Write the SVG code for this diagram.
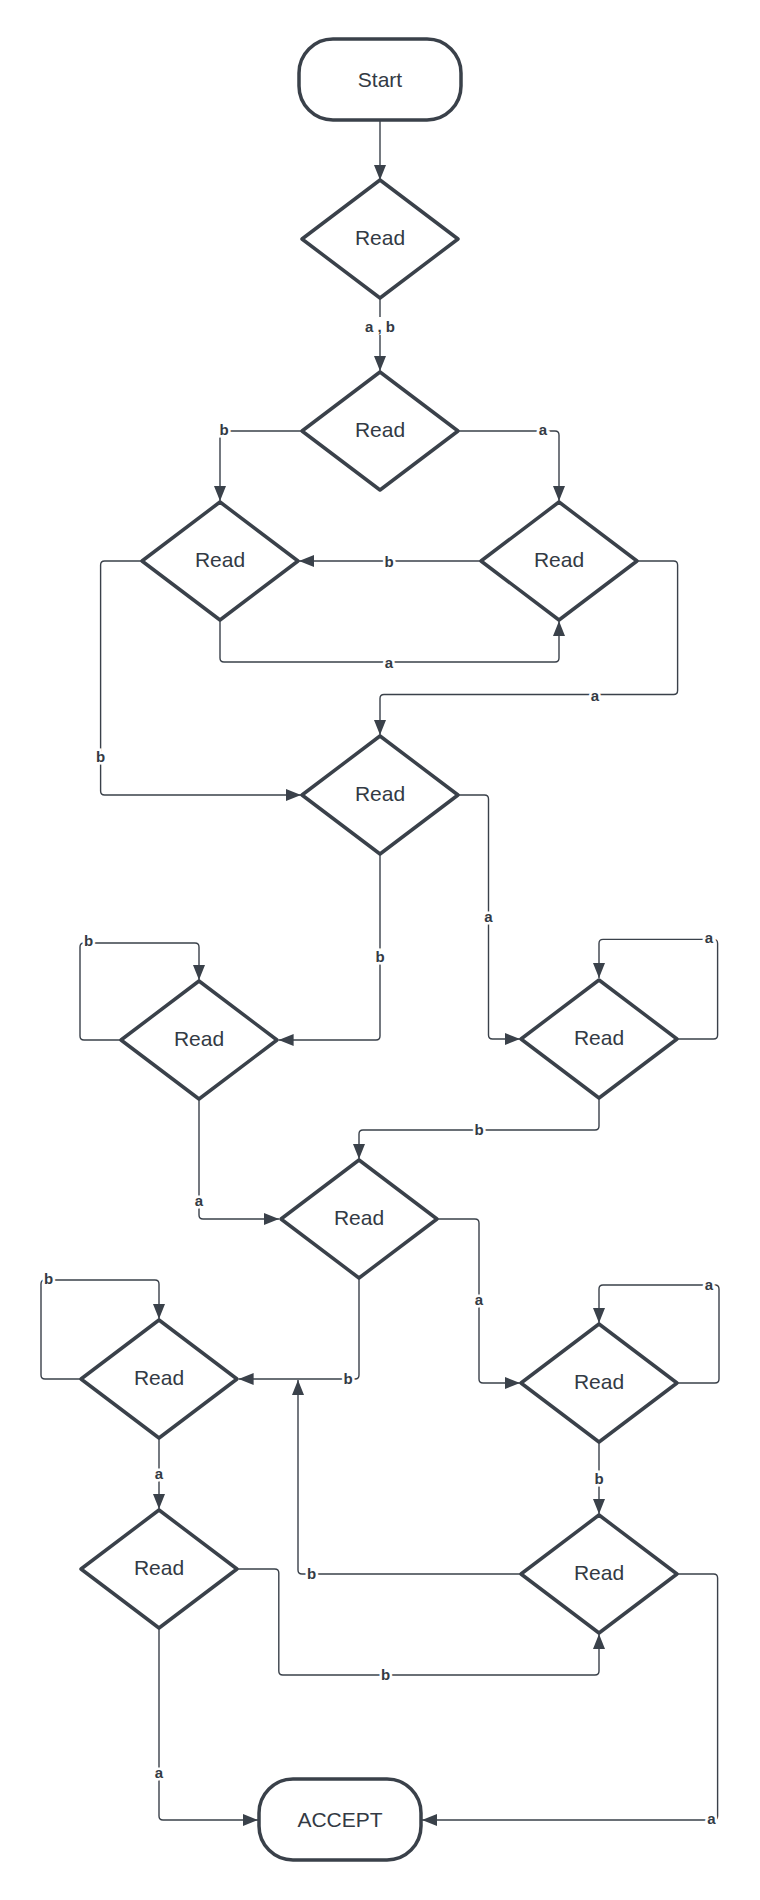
<svg xmlns="http://www.w3.org/2000/svg" xmlns:xlink="http://www.w3.org/1999/xlink" width="760" height="1900" viewBox="0 0 760 1900">
  <style>
    .node { fill: #ffffff; stroke: #3a414a; stroke-width: 3.5; stroke-linejoin: round; }
    .ntext { font-family: "Liberation Sans", Arial, sans-serif; font-size: 21px; fill: #333a44; text-anchor: middle; dominant-baseline: central; }
    .edge { fill: none; stroke: #3a414a; stroke-width: 1.4; stroke-linejoin: round; }
    .arrow { marker-end: url(#head); }
    .lbl { font-family: "Liberation Sans", Arial, sans-serif; font-size: 15px; font-weight: bold; fill: #333a44; text-anchor: middle; dominant-baseline: central; stroke: #ffffff; stroke-width: 5; paint-order: stroke; }
    .lbl-plain { font-family: "Liberation Sans", Arial, sans-serif; font-size: 15px; font-weight: bold; fill: #333a44; text-anchor: middle; dominant-baseline: central; }
  </style>
  <defs>
    <marker id="head" markerUnits="userSpaceOnUse" markerWidth="16" markerHeight="12" refX="15" refY="6" orient="auto">
      <path d="M0,0 L15,6 L0,12 Z" fill="#3a414a"/>
    </marker>
    <polygon id="dia" points="0,-59 78,0 0,59 -78,0"/>
  </defs>

  <rect width="760" height="1900" fill="#ffffff"/>

  <!-- connectors -->
  <g id="connectors">
    <path class="edge arrow" d="M380,120 V180"/>
    <path class="edge arrow" d="M380,298 V371"/>
    <path class="edge arrow" d="M302,431 H224 Q220,431 220,435 V501"/>
    <path class="edge arrow" d="M458,431 H555 Q559,431 559,435 V501"/>
    <path class="edge arrow" d="M481,561 H299"/>
    <path class="edge arrow" d="M220,620 V658 Q220,662 224,662 H555 Q559,662 559,658 V621"/>
    <path class="edge arrow" d="M637.6,561 H673.6 Q677.6,561 677.6,565 V690.5 Q677.6,694.5 673.6,694.5 H384 Q380,694.5 380,698.5 V735"/>
    <path class="edge arrow" d="M142,561 H104.6 Q100.6,561 100.6,565 V791 Q100.6,795 104.6,795 H301"/>
    <path class="edge arrow" d="M458,795 H484.5 Q488.5,795 488.5,799 V1035 Q488.5,1039 492.5,1039 H520"/>
    <path class="edge arrow" d="M380,854 V1036 Q380,1040 376,1040 H278.6"/>
    <path class="edge arrow" d="M121,1040 H84 Q80,1040 80,1036 V947 Q80,943 84,943 H195 Q199,943 199,947 V980"/>
    <path class="edge arrow" d="M677.6,1039 H713.6 Q717.6,1039 717.6,1035 V943.4 Q717.6,939.4 713.6,939.4 H603 Q599,939.4 599,943.4 V978"/>
    <path class="edge arrow" d="M599,1098 V1126 Q599,1130 595,1130 H363 Q359,1130 359,1134 V1159"/>
    <path class="edge arrow" d="M199,1099 V1215 Q199,1219 203,1219 H279"/>
    <path class="edge arrow" d="M437.6,1219 H475 Q479,1219 479,1223 V1379 Q479,1383 483,1383 H520"/>
    <path class="edge arrow" d="M359,1278 V1375 Q359,1379 355,1379 H238.6"/>
    <path class="edge arrow" d="M81,1379 H45 Q41,1379 41,1375 V1284 Q41,1280 45,1280 H155 Q159,1280 159,1284 V1319"/>
    <path class="edge arrow" d="M677.6,1383 H715 Q719,1383 719,1379 V1289 Q719,1285 715,1285 H603 Q599,1285 599,1289 V1323"/>
    <path class="edge arrow" d="M159,1438 V1509"/>
    <path class="edge arrow" d="M599,1442 V1514"/>
    <path class="edge arrow" d="M521,1574 H302 Q298,1574 298,1570 V1380"/>
    <path class="edge arrow" d="M237.6,1569 H274.8 Q278.8,1569 278.8,1573 V1671 Q278.8,1675 282.8,1675 H595 Q599,1675 599,1671 V1634"/>
    <path class="edge arrow" d="M159,1628 V1816 Q159,1820 163,1820 H258"/>
    <path class="edge arrow" d="M677.6,1574 H713.6 Q717.6,1574 717.6,1578 V1816 Q717.6,1820 713.6,1820 H422"/>

    <rect x="361" y="317" width="38" height="18" fill="#ffffff"/>
    <text class="lbl-plain" x="380" y="326" xml:space="preserve">a , b</text>
    <text class="lbl" x="224" y="429">b</text>
    <text class="lbl" x="543" y="429">a</text>
    <text class="lbl" x="389" y="561">b</text>
    <text class="lbl" x="389" y="662">a</text>
    <text class="lbl" x="595" y="695">a</text>
    <text class="lbl" x="100.6" y="756">b</text>
    <text class="lbl" x="488.5" y="916">a</text>
    <text class="lbl" x="380" y="956">b</text>
    <text class="lbl" x="88.5" y="940">b</text>
    <text class="lbl" x="709" y="937">a</text>
    <text class="lbl" x="479" y="1129">b</text>
    <text class="lbl" x="199" y="1200">a</text>
    <text class="lbl" x="479" y="1299">a</text>
    <text class="lbl" x="348" y="1378">b</text>
    <text class="lbl" x="48.5" y="1278">b</text>
    <text class="lbl" x="709" y="1284">a</text>
    <text class="lbl" x="159" y="1473">a</text>
    <text class="lbl" x="599" y="1478">b</text>
    <text class="lbl" x="311.5" y="1573">b</text>
    <text class="lbl" x="385.5" y="1674">b</text>
    <text class="lbl" x="159" y="1772">a</text>
    <text class="lbl" x="711.5" y="1818">a</text>
  </g>

  <!-- nodes -->
  <g id="start">
    <rect class="node" x="299" y="39" width="162" height="81" rx="34"/>
    <text class="ntext" x="380" y="79.5">Start</text>
  </g>
  <g id="read1" transform="translate(380,239)">
    <use xlink:href="#dia" class="node"/>
    <text class="ntext" x="0" y="-2">Read</text>
  </g>
  <g id="read2" transform="translate(380,431)">
    <use xlink:href="#dia" class="node"/>
    <text class="ntext" x="0" y="-2">Read</text>
  </g>
  <g id="read3" transform="translate(220,561)">
    <use xlink:href="#dia" class="node"/>
    <text class="ntext" x="0" y="-2">Read</text>
  </g>
  <g id="read4" transform="translate(559,561)">
    <use xlink:href="#dia" class="node"/>
    <text class="ntext" x="0" y="-2">Read</text>
  </g>
  <g id="read5" transform="translate(380,795)">
    <use xlink:href="#dia" class="node"/>
    <text class="ntext" x="0" y="-2">Read</text>
  </g>
  <g id="read6" transform="translate(199,1040)">
    <use xlink:href="#dia" class="node"/>
    <text class="ntext" x="0" y="-2">Read</text>
  </g>
  <g id="read7" transform="translate(599,1039)">
    <use xlink:href="#dia" class="node"/>
    <text class="ntext" x="0" y="-2">Read</text>
  </g>
  <g id="read8" transform="translate(359,1219)">
    <use xlink:href="#dia" class="node"/>
    <text class="ntext" x="0" y="-2">Read</text>
  </g>
  <g id="read9" transform="translate(159,1379)">
    <use xlink:href="#dia" class="node"/>
    <text class="ntext" x="0" y="-2">Read</text>
  </g>
  <g id="read10" transform="translate(599,1383)">
    <use xlink:href="#dia" class="node"/>
    <text class="ntext" x="0" y="-2">Read</text>
  </g>
  <g id="read11" transform="translate(159,1569)">
    <use xlink:href="#dia" class="node"/>
    <text class="ntext" x="0" y="-2">Read</text>
  </g>
  <g id="read12" transform="translate(599,1574)">
    <use xlink:href="#dia" class="node"/>
    <text class="ntext" x="0" y="-2">Read</text>
  </g>
  <g id="accept">
    <rect class="node" x="259" y="1779" width="162" height="81" rx="34"/>
    <text class="ntext" x="340" y="1819.5">ACCEPT</text>
  </g>
</svg>
